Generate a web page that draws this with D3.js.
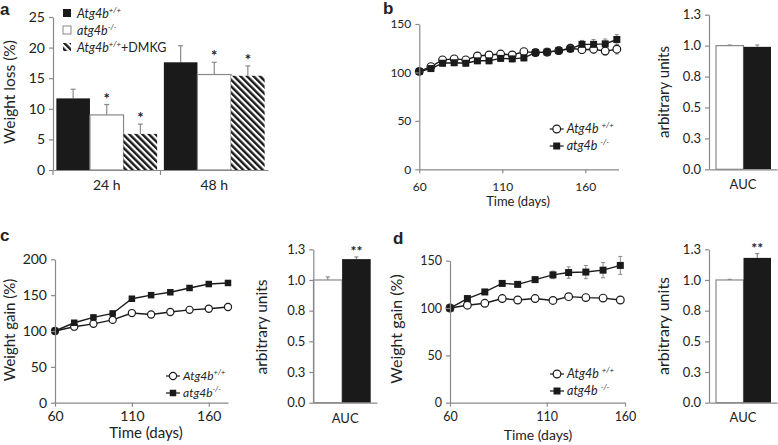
<!DOCTYPE html>
<html><head><meta charset="utf-8">
<script src="https://cdn.jsdelivr.net/npm/d3@7"></script>
<style>
body{margin:0;background:#fff}
svg{display:block}
text{font-family:Lato,"Open Sans",sans-serif;fill:#222}
</style>
</head><body>
<svg id="fig" width="778" height="445"></svg>
<script>
// ---------- Panel a ----------
const aCategories = ["24 h", "48 h"];
const aSeries = ["wt", "ko", "dmkg"];
const aWT = [11.7, 17.6];
const aKO = [9.0, 15.6];
const aDMKG = [5.9, 15.4];
const aWTErr = [1.5, 2.7];
const aKOErr = [1.7, 2.0];
const aDMKGErr = [1.6, 1.6];
const aKOStar = [true, true];
const aDMKGStar = [true, true];
const aTicks = [0, 5, 10, 15, 20, 25];

// ---------- Panel b ----------
const bDays = [60, 67, 74, 81, 88, 95, 102, 109, 116, 123, 130, 137, 144, 151, 158, 165, 172, 179];
const bWT = [101, 106, 113, 114, 113, 117, 118, 119, 118, 121.5, 120.5, 121, 122.5, 125, 123.5, 124, 122, 124];
const bWTErr = [2, 2, 3, 3, 3, 3, 3, 3, 3, 3, 3, 3, 3, 4, 4, 4, 4, 5];
const bKO = [101, 104, 109.5, 110, 109.5, 112, 112, 114.5, 114, 115, 120.5, 121, 122.5, 124.5, 129, 129, 129.5, 134];
const bKOErr = [2, 2, 3, 3, 3, 3, 3, 3, 3, 3, 4, 4, 4, 4, 4, 5, 5, 5];
const bAUC = [1.0, 0.99];
const bAUCErr = [0.005, 0.015];

// ---------- Panel c ----------
const cDays = [60, 72.5, 85, 97.5, 110, 122.5, 135, 147.5, 160, 172.5];
const cWT = [100, 106, 110, 115.5, 125, 123, 126.5, 129.5, 131, 133.5];
const cWTErr = [1, 2, 2, 2, 3, 3, 3, 4, 4, 5];
const cKO = [100, 111.5, 119, 124.5, 145, 150, 154, 160, 165.5, 167];
const cKOErr = [1, 2, 2, 2, 2, 2, 2, 2, 2, 2];
const cAUC = [1.0, 1.17];
const cAUCErr = [0.025, 0.018];

// ---------- Panel d ----------
const dDays = [60, 69, 78, 87, 95, 104, 114, 124, 135, 146, 157];
const dWT = [100, 103, 105, 110, 108.5, 110, 108, 112, 111, 110.5, 108.5];
const dWTErr = [0.5, 1, 1, 1, 1, 1, 1, 1, 1, 1, 1];
const dKO = [100, 110, 117, 126, 125, 130, 135, 137.5, 138, 140, 145];
const dKOErr = [0.5, 1, 1, 1, 1.5, 3, 4, 6, 7, 8, 9.5];
const dAUC = [1.0, 1.18];
const dAUCErr = [0.005, 0.035];

const aucTicks = [0, 0.25, 0.5, 0.75, 1.0, 1.25];
const xDayTicks = [60, 110, 160];

const AXIS = "#8a8a8a", DARK = "#1a1a1a", ERR = "#8a8a8a";
const svg = d3.select("#fig");
const defs = svg.append("defs");
const pat = defs.append("pattern").attr("id", "hatch").attr("patternUnits", "userSpaceOnUse")
  .attr("width", 4.6).attr("height", 4.6).attr("patternTransform", "rotate(-45)");
pat.append("rect").attr("width", 4.6).attr("height", 4.6).attr("fill", "#fff");
pat.append("rect").attr("width", 2.4).attr("height", 4.6).attr("fill", "#1a1a1a");

function styleAxis(g, fs) {
  g.selectAll(".domain").attr("stroke", AXIS).attr("stroke-width", 1.2);
  g.selectAll(".tick line").attr("stroke", AXIS).attr("stroke-width", 1.2);
  g.selectAll("text").attr("font-size", fs).attr("fill", "#222").style("font-family", "Lato,'Open Sans',sans-serif");
}
function panelLabel(t, x, y) {
  svg.append("text").attr("x", x).attr("y", y).attr("font-size", 17).attr("font-weight", "bold")
    .style("font-family", "Liberation Sans,Arial,sans-serif").text(t);
}
function yTitle(t, x, y, fs) {
  svg.append("text").attr("transform", `translate(${x},${y}) rotate(-90)`).attr("text-anchor", "middle")
    .attr("font-size", fs).text(t);
}
function geneLabel(sel, italicName, sup, extra, fs) {
  sel.append("tspan").attr("font-style", "italic").text(italicName);
  sel.append("tspan").attr("font-style", "italic").attr("font-size", fs * 0.62).attr("dy", -fs * 0.38).text(sup);
  if (extra) sel.append("tspan").attr("dy", fs * 0.38).text(extra);
}

// ================= Panel a =================
(function () {
  const y = d3.scaleLinear().domain([0, 25]).range([170, 17]);
  const x = d3.scaleBand().domain(aCategories).range([53, 268]);
  const xs = d3.scaleBand().domain(aSeries).range([0, x.bandwidth()]).paddingOuter(0.1);
  const vals = { wt: aWT, ko: aKO, dmkg: aDMKG };
  const errs = { wt: aWTErr, ko: aKOErr, dmkg: aDMKGErr };
  const stars = { ko: aKOStar, dmkg: aDMKGStar };
  const fills = { wt: DARK, ko: "#fff", dmkg: "url(#hatch)" };
  const g = svg.append("g");
  aSeries.forEach(s => {
    aCategories.forEach((c, i) => {
      const x0 = x(c) + xs(s), w = xs.bandwidth(), v = vals[s][i], e = errs[s][i];
      const cx = x0 + w / 2;
      g.append("line").attr("x1", cx).attr("x2", cx).attr("y1", y(v)).attr("y2", y(v + e)).attr("stroke", ERR).attr("stroke-width", 1.2);
      g.append("line").attr("x1", cx - 2.5).attr("x2", cx + 2.5).attr("y1", y(v + e)).attr("y2", y(v + e)).attr("stroke", ERR).attr("stroke-width", 1.2);
      g.append("rect").attr("x", x0).attr("y", y(v)).attr("width", w).attr("height", y(0) - y(v))
        .attr("fill", fills[s]).attr("stroke", s === "ko" ? "#888" : "none").attr("stroke-width", 1.2);
      if (stars[s] && stars[s][i]) {
        g.append("text").attr("x", cx).attr("y", y(v + e) - 1).attr("text-anchor", "middle")
          .attr("font-size", 15).attr("font-weight", "bold").text("*");
      }
    });
  });
  const ya = svg.append("g").attr("transform", "translate(53,0)")
    .call(d3.axisLeft(y).tickValues(aTicks).tickSize(4).tickSizeOuter(0).tickPadding(4));
  styleAxis(ya, 14);
  const xa = svg.append("g").attr("transform", "translate(0,170)")
    .call(d3.axisBottom(x).tickSize(0).tickPadding(10));
  styleAxis(xa, 14);
  [53, x(aCategories[1])].forEach(px => svg.append("line").attr("x1", px).attr("x2", px).attr("y1", 170).attr("y2", 175).attr("stroke", AXIS).attr("stroke-width", 1.2));
  yTitle("Weight loss (%)", 15, 92, 15.5);
  panelLabel("a", 0, 15);
  const leg = [["wt", "Atg4b", "+/+", null], ["ko", "atg4b", "-/-", null], ["dmkg", "Atg4b", "+/+", "+DMKG"]];
  leg.forEach((l, i) => {
    const yy = 13 + i * 17;
    svg.append("rect").attr("x", 63).attr("y", yy - 4).attr("width", 8).attr("height", 8)
      .attr("fill", fills[l[0]]).attr("stroke", l[0] === "ko" ? "#888" : "none");
    const t = svg.append("text").attr("x", 77).attr("y", yy + 4.5).attr("font-size", 12.5);
    geneLabel(t, l[1], l[2], l[3], 12.5);
  });
})();

// ================= line panels =================
function drawMarker(g, type, cx, cy, ms) {
  if (type === "circle") {
    g.append("circle").attr("cx", cx).attr("cy", cy).attr("r", ms * 0.55).attr("fill", "#fff").attr("stroke", DARK).attr("stroke-width", 1.2);
  } else {
    g.append("rect").attr("x", cx - ms / 2).attr("y", cy - ms / 2).attr("width", ms).attr("height", ms).attr("fill", DARK);
  }
}
function linePanel(cfg) {
  const x = d3.scaleLinear().domain(cfg.xDomain).range(cfg.xRange);
  const y = d3.scaleLinear().domain(cfg.yDomain).range(cfg.yRange);
  const g = svg.append("g");
  const series = [
    { v: cfg.wt, e: cfg.wtErr, type: "circle" },
    { v: cfg.ko, e: cfg.koErr, type: "square" }
  ];
  series.forEach(s => {
    s.v.forEach((v, i) => {
      const px = x(cfg.days[i]);
      g.append("line").attr("x1", px).attr("x2", px).attr("y1", y(v - s.e[i])).attr("y2", y(v + s.e[i])).attr("stroke", ERR).attr("stroke-width", 1);
      [v - s.e[i], v + s.e[i]].forEach(vv => g.append("line").attr("x1", px - 2).attr("x2", px + 2).attr("y1", y(vv)).attr("y2", y(vv)).attr("stroke", ERR).attr("stroke-width", 1));
    });
  });
  const line = d3.line().x((d, i) => x(cfg.days[i])).y(d => y(d));
  series.forEach(s => g.append("path").attr("d", line(s.v)).attr("fill", "none").attr("stroke", DARK).attr("stroke-width", 1.4));
  series.forEach(s => s.v.forEach((v, i) => drawMarker(g, s.type, x(cfg.days[i]), y(v), cfg.ms)));
  const ya = svg.append("g").attr("transform", `translate(${cfg.xRange[0]},0)`)
    .call(d3.axisLeft(y).tickValues(cfg.yTicks).tickSize(4).tickSizeOuter(0).tickPadding(4));
  styleAxis(ya, cfg.fs);
  const xa = svg.append("g").attr("transform", `translate(0,${cfg.yRange[0]})`)
    .call(d3.axisBottom(x).tickValues(xDayTicks).tickSize(4).tickSizeOuter(0).tickPadding(cfg.xPad));
  styleAxis(xa, cfg.fs);
  svg.append("text").attr("x", cfg.xTitle[0]).attr("y", cfg.xTitle[1]).attr("text-anchor", "middle").attr("font-size", cfg.xtFs).text("Time (days)");
  if (cfg.yTitle) yTitle("Weight gain (%)", cfg.yTitle[0], cfg.yTitle[1], cfg.ytFs);
  [["circle", "Atg4b", "+/+"], ["square", "atg4b", "-/-"]].forEach((l, i) => {
    const lx = cfg.leg[0], ly = cfg.leg[1] + i * cfg.leg[2];
    svg.append("line").attr("x1", lx - 7).attr("x2", lx + 7).attr("y1", ly).attr("y2", ly).attr("stroke", DARK).attr("stroke-width", 1.2);
    drawMarker(svg, l[0], lx, ly, cfg.ms);
    const t = svg.append("text").attr("x", lx + 10).attr("y", ly + 4).attr("font-size", cfg.legFs);
    geneLabel(t, l[1] + cfg.gap, l[2], null, cfg.legFs);
  });
}

// ================= AUC panels =================
function aucPanel(cfg) {
  const y = d3.scaleLinear().domain([0, 1.25]).range(cfg.yRange);
  const x = d3.scaleBand().domain(["AUC"]).range(cfg.xRange);
  const xs = d3.scaleBand().domain(["wt", "ko"]).range(cfg.barRange);
  const g = svg.append("g");
  ["wt", "ko"].forEach((s, i) => {
    const v = cfg.vals[i], e = cfg.errs[i], x0 = xs(s), w = xs.bandwidth(), cx = x0 + w / 2;
    g.append("line").attr("x1", cx).attr("x2", cx).attr("y1", y(v)).attr("y2", y(v + e)).attr("stroke", ERR).attr("stroke-width", 1.2);
    g.append("line").attr("x1", cx - 2).attr("x2", cx + 2).attr("y1", y(v + e)).attr("y2", y(v + e)).attr("stroke", ERR).attr("stroke-width", 1.2);
    g.append("rect").attr("x", x0).attr("y", y(v)).attr("width", w).attr("height", y(0) - y(v))
      .attr("fill", s === "wt" ? "#fff" : DARK).attr("stroke", s === "wt" ? "#888" : "none").attr("stroke-width", 1.2);
    if (s === "ko" && cfg.star) {
      g.append("text").attr("x", cx).attr("y", y(v + e) - 1).attr("text-anchor", "middle").attr("font-size", 14).attr("font-weight", "bold").text(cfg.star);
    }
  });
  const ya = svg.append("g").attr("transform", `translate(${cfg.xRange[0]},0)`)
    .call(d3.axisLeft(y).tickValues(aucTicks).tickFormat(d => (Math.round(d * 10 + 1e-9) / 10).toFixed(1)).tickSize(4).tickSizeOuter(0).tickPadding(4));
  styleAxis(ya, 13);
  const xa = svg.append("g").attr("transform", `translate(0,${cfg.yRange[0]})`)
    .call(d3.axisBottom(x).tickSize(0).tickPadding(cfg.xPad));
  styleAxis(xa, 13);
  yTitle("arbitrary units", cfg.yTitle[0], cfg.yTitle[1], cfg.ytFs);
}

// Panel b
linePanel({ days: bDays, wt: bWT, wtErr: bWTErr, ko: bKO, koErr: bKOErr,
  xDomain: [60, 180], xRange: [419.3, 618.5], yDomain: [0, 150], yRange: [169.3, 24], yTicks: [0, 50, 100, 150],
  fs: 12, xPad: 9, xtFs: 13, ytFs: 15, legFs: 12.5, ms: 7, xTitle: [518, 206], yTitle: null, leg: [556.7, 129, 17], gap: " " });
aucPanel({ vals: bAUC, errs: bAUCErr, yRange: [169.3, 14.7], xRange: [709, 777], barRange: [716, 771], yTitle: [669, 92], ytFs: 15, xPad: 10, star: null });
panelLabel("b", 383, 14);

// Panel c
linePanel({ days: cDays, wt: cWT, wtErr: cWTErr, ko: cKO, koErr: cKOErr,
  xDomain: [60, 172.5], xRange: [55, 228], yDomain: [0, 200], yRange: [402.7, 259.3], yTicks: [0, 50, 100, 150, 200],
  fs: 14, xPad: 4, xtFs: 15, ytFs: 15, legFs: 12, ms: 6.5, xTitle: [146, 438], yTitle: [15, 330], leg: [173, 376, 17], gap: "" });
aucPanel({ vals: cAUC, errs: cAUCErr, yRange: [402.7, 249.3], xRange: [313.3, 377], barRange: [313.5, 370.7], yTitle: [267, 327], ytFs: 15.5, xPad: 11, star: "**" });
panelLabel("c", 0, 241);

// Panel d (its x axis is non-uniform in the original, hence a polylinear scale)
linePanel({ days: dDays, wt: dWT, wtErr: dWTErr, ko: dKO, koErr: dKOErr,
  xDomain: [60, 110, 160], xRange: [450, 546.7, 625], yDomain: [0, 150], yRange: [402.7, 260.7], yTicks: [0, 50, 100, 150],
  fs: 12.5, xPad: 5, xtFs: 14, ytFs: 16, legFs: 12.5, ms: 7, xTitle: [538, 440], yTitle: [402, 329], leg: [557, 374, 17], gap: " " });
aucPanel({ vals: dAUC, errs: dAUCErr, yRange: [402.7, 249.3], xRange: [709, 777], barRange: [716, 771], yTitle: [669, 326], ytFs: 16, xPad: 10, star: "**" });
panelLabel("d", 393, 244);
</script>
</body></html>
